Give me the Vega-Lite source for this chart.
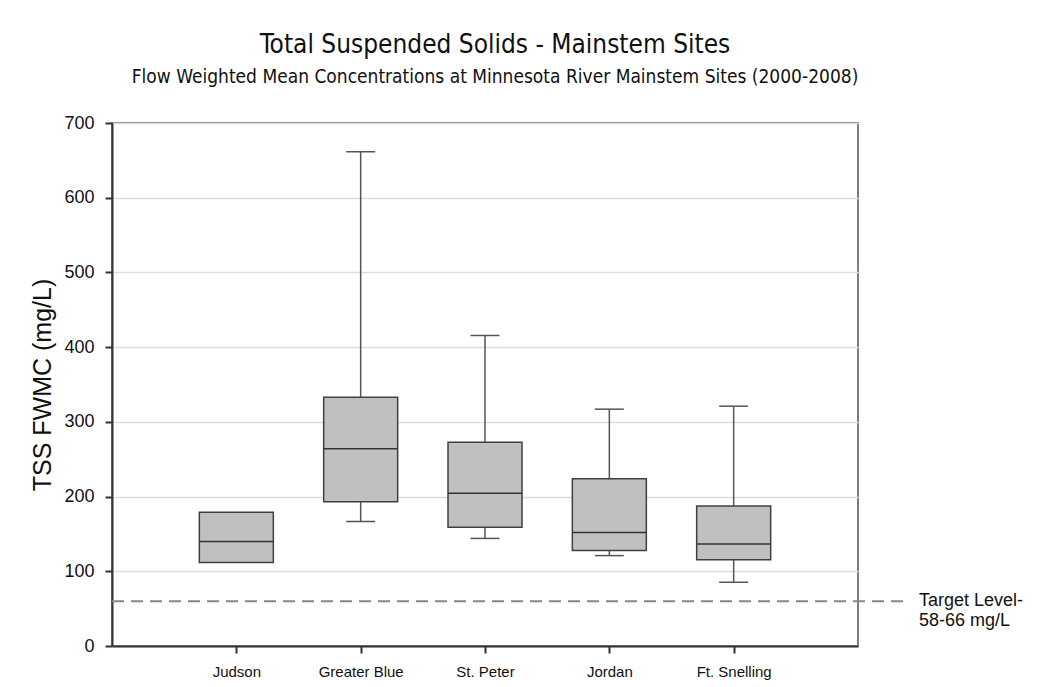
{
  "$schema": "https://vega.github.io/schema/vega-lite/v6.json",
  "autosize": {"type": "none"},
  "padding": {"left": 112, "top": 123, "right": 183, "bottom": 41},
  "width": 746,
  "height": 523,
  "background": "white",
  "title": {
    "text": "Total Suspended Solids - Mainstem Sites",
    "subtitle": "Flow Weighted Mean Concentrations at Minnesota River Mainstem Sites (2000-2008)",
    "anchor": "middle",
    "frame": "group",
    "dx": 10,
    "offset": 27,
    "font": "Liberation Sans Narrow, DejaVu Sans Condensed, sans-serif",
    "fontSize": 26,
    "fontWeight": "normal",
    "color": "#111",
    "subtitleFont": "Liberation Sans Narrow, DejaVu Sans Condensed, sans-serif",
    "subtitleFontSize": 19,
    "subtitleColor": "#111",
    "subtitlePadding": 10
  },
  "config": {
    "view": {"stroke": "#555", "strokeWidth": 1.5},
    "font": "Liberation Sans, Arial, sans-serif"
  },
  "data": {
    "values": [
      {"site": "Judson", "lower": null, "q1": 111.6, "median": 139.7, "q3": 179, "upper": null},
      {"site": "Greater Blue", "lower": 166.5, "q1": 193, "median": 264, "q3": 333, "upper": 661.6},
      {"site": "St. Peter", "lower": 144, "q1": 159, "median": 204.5, "q3": 272.8, "upper": 415.6},
      {"site": "Jordan", "lower": 121, "q1": 127.7, "median": 151.8, "q3": 224, "upper": 317},
      {"site": "Ft. Snelling", "lower": 85.3, "q1": 115.6, "median": 136.6, "q3": 187.5, "upper": 321}
    ]
  },
  "encoding": {
    "x": {
      "field": "site",
      "type": "nominal",
      "sort": null,
      "scale": {"type": "point", "padding": 1, "domain": ["Judson", "Greater Blue", "St. Peter", "Jordan", "Ft. Snelling"]},
      "axis": {
        "title": null,
        "labelAngle": 0,
        "labelFontSize": 15,
        "labelColor": "#111",
        "labelPadding": 11,
        "tickSize": 7,
        "tickColor": "#333",
        "tickWidth": 2,
        "domainColor": "#333",
        "domainWidth": 2,
        "grid": false
      }
    }
  },
  "layer": [
    {
      "mark": {"type": "rule", "color": "#555", "strokeWidth": 1.5},
      "encoding": {
        "y": {
          "field": "lower",
          "type": "quantitative",
          "scale": {"domain": [0, 700], "nice": false},
          "axis": {
            "title": "TSS FWMC (mg/L)",
            "titleFontSize": 25,
            "titleFontWeight": "normal",
            "titleColor": "#111",
            "titlePadding": 8,
            "values": [0, 100, 200, 300, 400, 500, 600, 700],
            "labelFontSize": 18,
            "labelColor": "#111",
            "labelPadding": 11,
            "tickSize": 7,
            "tickColor": "#333",
            "tickWidth": 2,
            "domainColor": "#333",
            "domainWidth": 2,
            "gridColor": "#dddddd",
            "gridWidth": 1.5
          }
        },
        "y2": {"field": "upper"}
      }
    },
    {
      "mark": {"type": "bar", "width": 74, "fill": "#c0c0c0", "stroke": "#404040", "strokeWidth": 1.5},
      "encoding": {
        "y": {"field": "q1", "type": "quantitative"},
        "y2": {"field": "q3"}
      }
    },
    {
      "mark": {"type": "tick", "size": 74, "thickness": 1.5, "color": "#333", "opacity": 1},
      "encoding": {
        "y": {"field": "median", "type": "quantitative"}
      }
    },
    {
      "mark": {"type": "tick", "size": 29, "thickness": 1.5, "color": "#555", "opacity": 1},
      "encoding": {
        "y": {"field": "lower", "type": "quantitative"}
      }
    },
    {
      "mark": {"type": "tick", "size": 29, "thickness": 1.5, "color": "#555", "opacity": 1},
      "encoding": {
        "y": {"field": "upper", "type": "quantitative"}
      }
    },
    {
      "data": {"values": [{"target": 60, "label": "Target Level-\n58-66 mg/L"}]},
      "layer": [
        {
          "mark": {"type": "rule", "color": "#888", "strokeWidth": 2, "strokeDash": [12, 7], "x2Offset": 52},
          "encoding": {
            "x": {"value": 0},
            "x2": {"value": "width"},
            "y": {"field": "target", "type": "quantitative"}
          }
        },
        {
          "mark": {"type": "text", "align": "left", "baseline": "middle", "dx": 61, "dy": 0, "fontSize": 18, "lineHeight": 20, "lineBreak": "\n", "color": "#111"},
          "encoding": {
            "x": {"value": "width"},
            "y": {"field": "target", "type": "quantitative"},
            "text": {"field": "label"}
          }
        }
      ]
    }
  ]
}
